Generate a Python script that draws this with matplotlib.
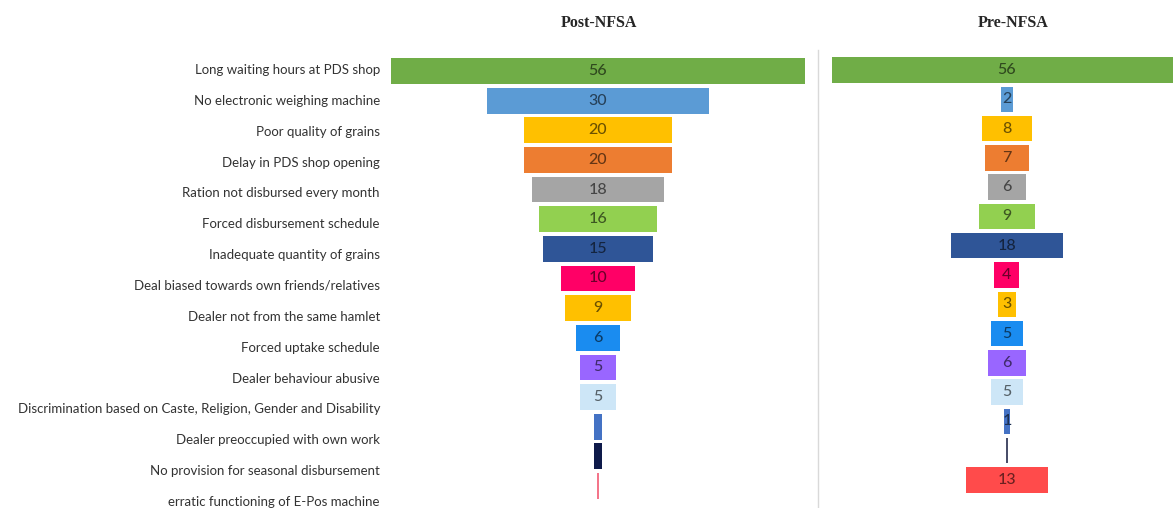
import matplotlib
matplotlib.use("Agg")
import matplotlib.pyplot as plt
from matplotlib.colors import to_rgb
from matplotlib.lines import Line2D

categories = [
    "Long waiting hours at PDS shop",
    "No electronic weighing machine",
    "Poor quality of grains",
    "Delay in PDS shop opening",
    "Ration not disbursed every month",
    "Forced disbursement schedule",
    "Inadequate quantity of grains",
    "Deal biased towards own friends/relatives",
    "Dealer not from the same hamlet",
    "Forced uptake schedule",
    "Dealer behaviour abusive",
    "Discrimination based on Caste, Religion, Gender and Disability",
    "Dealer preoccupied with own work",
    "No provision for seasonal disbursement",
    "erratic functioning of E-Pos machine",
]
post_values = [56, 30, 20, 20, 18, 16, 15, 10, 9, 6, 5, 5, 1, 1, 0.2]
post_labels = ["56", "30", "20", "20", "18", "16", "15", "10", "9", "6", "5", "5", "", "", ""]
pre_values = [56, 2, 8, 7, 6, 9, 18, 4, 3, 5, 6, 5, 1, 0.25, 13]
pre_labels = ["56", "2", "8", "7", "6", "9", "18", "4", "3", "5", "6", "5", "1", "", "13"]

post_colors = ["#70AD47", "#5B9BD5", "#FFC000", "#ED7D31", "#A5A5A5", "#92D050",
               "#2F5597", "#FF0066", "#FFC000", "#1A8CF0", "#9966FF", "#CDE6F7",
               "#4472C4", "#0E1A4A", "#F4758A"]
pre_colors = ["#70AD47", "#5B9BD5", "#FFC000", "#ED7D31", "#A5A5A5", "#92D050",
              "#2F5597", "#FF0066", "#FFC000", "#1A8CF0", "#9966FF", "#CDE6F7",
              "#4472C4", "#4A4F6A", "#FF4B4B"]

W, H = 1173, 508
fig = plt.figure(figsize=(W / 100, H / 100), dpi=100)
fig.patch.set_facecolor("white")


def px_axes(left, right, top, bottom):
    return fig.add_axes([left / W, 1 - bottom / H, (right - left) / W, (bottom - top) / H])


def darker(c, f=0.42):
    r, g, b = to_rgb(c)
    return (r * f, g * f, b * f)


n = len(categories)

# label axis
axl = px_axes(0, 380, 70 - 15.43, 502 + 15.43)
axl.set_xlim(0, 1)
axl.set_ylim(n - 0.5, -0.5)
axl.axis("off")
for i, c in enumerate(categories):
    axl.text(1.0, i, c, ha="right", va="center", fontsize=9.5, family="Lato",
             color="#333333")


def draw_panel(ax, values, labels, colors, xlim):
    ax.set_xlim(*xlim)
    ax.set_ylim(n - 0.5, -0.5)
    ax.axis("off")
    y = list(range(n))
    lefts = [-v / 2 for v in values]
    ax.barh(y, values, left=lefts, height=0.87, color=colors, edgecolor="none")
    for i, (v, lab) in enumerate(zip(values, labels)):
        if lab:
            ax.text(0, i, lab, ha="center", va="center", fontsize=11.5, family="Lato",
                    weight="medium", color=darker(colors[i]))


sp = 29.64
ax_post = px_axes(390, 806, 71 - sp / 2, 486 + sp / 2)
draw_panel(ax_post, post_values, post_labels, post_colors, (-28.2, 28.2))

sp2 = 29.29
ax_pre = px_axes(830, 1173, 70 - sp2 / 2, 480 + sp2 / 2)
draw_panel(ax_pre, pre_values, pre_labels, pre_colors, (-28.3, 26.56))

fig.text(599 / W, 1 - 23 / H, "Post-NFSA", ha="center", va="center", fontsize=11.5,
         family="Liberation Serif", weight="bold", color="#262626")
fig.text(1013 / W, 1 - 23 / H, "Pre-NFSA", ha="center", va="center", fontsize=11.5,
         family="Liberation Serif", weight="bold", color="#262626")

fig.add_artist(Line2D([818 / W, 818 / W], [0, 1 - 50 / H], transform=fig.transFigure,
                      color="#D9D9D9", lw=1))

fig.savefig("out.png", dpi=100, facecolor="white")
